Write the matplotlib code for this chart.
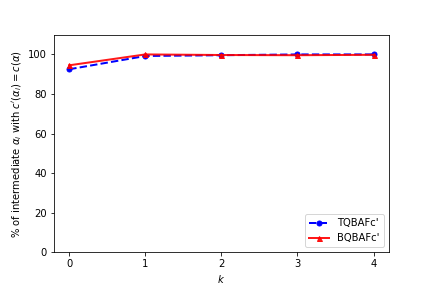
import matplotlib
matplotlib.use("Agg")
import matplotlib.pyplot as plt

k = [0, 1, 2, 3, 4]
tqbaf = [92.5, 99.2, 99.6, 100.0, 100.0]
bqbaf = [94.5, 100.0, 99.7, 99.6, 99.8]

fig, ax = plt.subplots(figsize=(6, 4), dpi=72)
fig.subplots_adjust(bottom=0.124, top=0.877)
ax.plot(k, tqbaf, 'b--o', linewidth=2, markersize=5, label="TQBAFc'")
ax.plot(k, bqbaf, 'r-^', linewidth=2, markersize=5, label="BQBAFc'", alpha=0.9)
ax.set_ylim(0, 109.6)
ax.set_xticks(k)
ax.set_xlabel('$k$')
ax.set_ylabel(r"% of intermediate $\alpha_i$ with $c'(\alpha_i) = c(\alpha)$")
ax.legend(loc='lower right')
fig.savefig('out.png', dpi=72)
